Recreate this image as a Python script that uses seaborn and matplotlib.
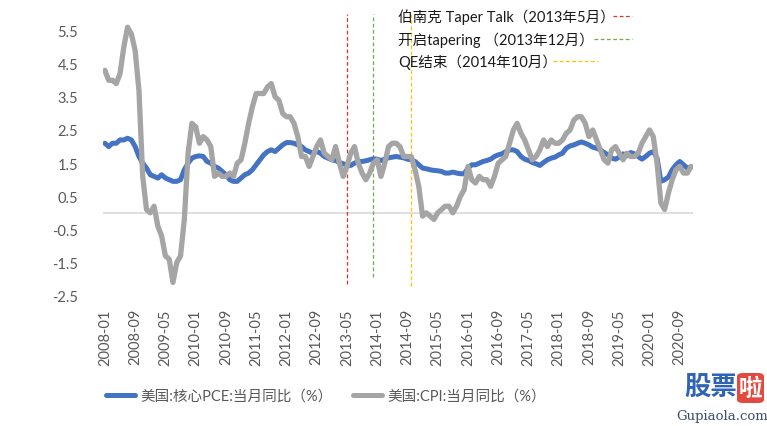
import numpy as np
import pandas as pd
import matplotlib
matplotlib.use("Agg")
import matplotlib.pyplot as plt
from matplotlib.lines import Line2D
from matplotlib.patches import FancyBboxPatch
import seaborn as sns

# ---------------- data ----------------
months = pd.date_range("2008-01-01", "2020-12-01", freq="MS").strftime("%Y-%m").tolist()

core_pce = [
    2.1, 2.0, 2.1, 2.1, 2.2, 2.2, 2.25, 2.2, 2.0, 1.7, 1.5, 1.35,      # 2008
    1.15, 1.1, 1.05, 1.15, 1.05, 1.0, 0.95, 0.95, 1.0, 1.3, 1.5, 1.65,  # 2009
    1.7, 1.72, 1.7, 1.55, 1.5, 1.4, 1.35, 1.25, 1.15, 1.0, 0.95, 0.95,  # 2010
    1.05, 1.15, 1.2, 1.3, 1.45, 1.6, 1.75, 1.85, 1.9, 1.85, 1.95, 2.05, # 2011
    2.12, 2.12, 2.1, 2.05, 2.0, 1.9, 1.85, 1.8, 1.85, 1.8, 1.7, 1.65,   # 2012
    1.6, 1.58, 1.52, 1.48, 1.45, 1.43, 1.5, 1.55, 1.55, 1.57, 1.6, 1.63,# 2013
    1.62, 1.58, 1.62, 1.66, 1.68, 1.7, 1.68, 1.66, 1.62, 1.6, 1.55, 1.45,# 2014
    1.35, 1.33, 1.3, 1.28, 1.27, 1.25, 1.2, 1.2, 1.23, 1.2, 1.18, 1.18, # 2015
    1.35, 1.45, 1.45, 1.5, 1.55, 1.58, 1.62, 1.7, 1.75, 1.78, 1.85, 1.9,# 2016
    1.9, 1.85, 1.7, 1.62, 1.58, 1.52, 1.48, 1.43, 1.52, 1.6, 1.65, 1.68,# 2017
    1.75, 1.8, 1.95, 2.02, 2.05, 2.1, 2.14, 2.1, 2.05, 1.98, 1.95, 1.9, # 2018
    1.82, 1.75, 1.65, 1.62, 1.68, 1.78, 1.72, 1.82, 1.78, 1.7, 1.62, 1.7,# 2019
    1.8, 1.85, 1.65, 0.95, 1.0, 1.08, 1.3, 1.45, 1.55, 1.45, 1.35, 1.38,# 2020
]

cpi = [
    4.3, 4.0, 4.0, 3.9, 4.2, 5.0, 5.6, 5.4, 4.9, 3.7, 1.1, 0.1,         # 2008
    0.0, 0.2, -0.4, -0.7, -1.3, -1.4, -2.1, -1.5, -1.3, -0.2, 1.8, 2.7, # 2009
    2.6, 2.1, 2.3, 2.2, 2.0, 1.1, 1.2, 1.1, 1.1, 1.2, 1.1, 1.5,         # 2010
    1.6, 2.1, 2.7, 3.2, 3.6, 3.6, 3.6, 3.8, 3.9, 3.5, 3.4, 3.0,         # 2011
    2.9, 2.9, 2.7, 2.3, 1.7, 1.7, 1.4, 1.7, 2.0, 2.2, 1.8, 1.7,         # 2012
    1.6, 2.0, 1.5, 1.1, 1.4, 1.8, 2.0, 1.5, 1.2, 1.0, 1.2, 1.5,         # 2013
    1.6, 1.1, 1.5, 2.0, 2.1, 2.1, 2.0, 1.7, 1.7, 1.7, 1.3, 0.8,         # 2014
    -0.1, 0.0, -0.1, -0.2, 0.0, 0.1, 0.2, 0.2, 0.0, 0.2, 0.5, 0.7,      # 2015
    1.4, 1.0, 0.9, 1.1, 1.0, 1.0, 0.8, 1.1, 1.5, 1.6, 1.7, 2.1,         # 2016
    2.5, 2.7, 2.4, 2.2, 1.9, 1.6, 1.7, 1.9, 2.2, 2.0, 2.2, 2.1,         # 2017
    2.1, 2.2, 2.4, 2.5, 2.8, 2.9, 2.9, 2.7, 2.3, 2.5, 2.2, 1.9,         # 2018
    1.6, 1.5, 1.9, 2.0, 1.8, 1.6, 1.8, 1.7, 1.7, 1.8, 2.1, 2.3,         # 2019
    2.5, 2.3, 1.5, 0.3, 0.1, 0.6, 1.0, 1.3, 1.4, 1.2, 1.2, 1.4,         # 2020
]

series_names = ["美国:核心PCE:当月同比（%）", "美国:CPI:当月同比（%）"]
y_ticks = [-2.5, -1.5, -0.5, 0.5, 1.5, 2.5, 3.5, 4.5, 5.5]

events = ["2013-05", "2013-12", "2014-10"]
event_labels = ["伯南克 Taper Talk（2013年5月）", "开启tapering （2013年12月）", "QE结束（2014年10月）"]

# ---------------- figure ----------------
sns.set_style("white")
plt.rcParams["font.family"] = ["Lato", "Noto Sans CJK SC", "DejaVu Sans"]

W, H = 767, 427
fig = plt.figure(figsize=(W / 100, H / 100), dpi=100)
ax = fig.add_axes([103 / W, 1 - 296.7 / H, (693 - 103) / W, (296.7 - 15) / H])

idx = np.arange(len(months))
df = pd.DataFrame({"i": idx, "pce": core_pce, "cpi": cpi})

ax.axhline(0, color="#d9d9d9", lw=1.2, zorder=1)

sns.lineplot(data=df, x="i", y="pce", ax=ax, color="#4472c4", lw=3.6,
             label=series_names[0], zorder=3, legend=False)
sns.lineplot(data=df, x="i", y="cpi", ax=ax, color="#a5a5a5", lw=3.8,
             label=series_names[1], zorder=4, legend=False)
for l in ax.lines:
    l.set_solid_capstyle("round")
    l.set_solid_joinstyle("round")

ax.set_xlim(-0.5, len(months) - 0.5)
ax.set_ylim(-2.5, 6.0)
ax.set_yticks(y_ticks)
ax.set_yticklabels([f"{v:.1f}" for v in y_ticks])
tick_pos = idx[::8]
ax.set_xticks(tick_pos)
ax.set_xticklabels([months[i] for i in tick_pos], rotation=90)
ax.tick_params(axis="both", length=0, labelsize=10.5, colors="#595959")
ax.tick_params(axis="y", pad=18)
ax.tick_params(axis="x", pad=9)
ax.set_xlabel("")
ax.set_ylabel("")
for s in ax.spines.values():
    s.set_visible(False)

# event vertical lines
ev_colors = ["#e0302c", "#70ad47", "#ffc000"]
ev_bottom = [-2.15, -1.94, -2.2]
for e, c, b in zip(events, ev_colors, ev_bottom):
    xi = months.index(e)
    ax.vlines(xi, b, 6.0, colors=c, linestyles=(0, (3, 2)), lw=0.9, zorder=2)

# annotation texts with trailing dashed leaders
text_y = [17, 40, 62]
leader = [(613, 632), (594, 632), (553, 598)]
for t, yy, c, (x0, x1) in zip(event_labels, text_y, ev_colors, leader):
    fig.text(398 / W, 1 - yy / H, t, fontsize=10.5, color="#1a1a1a",
             va="center", ha="left", zorder=5)
    fig.add_artist(Line2D([x0 / W, x1 / W], [1 - yy / H, 1 - yy / H],
                          color=c, lw=0.9, ls=(0, (3, 2)),
                          transform=fig.transFigure))

# legend
handles = [Line2D([], [], color="#4472c4", lw=3.6),
           Line2D([], [], color="#a5a5a5", lw=3.6)]
fig.legend(handles, series_names, loc="center left",
           bbox_to_anchor=(106 / W, 1 - 397 / H), ncol=2, frameon=False,
           fontsize=10.5, handlelength=2.0, handletextpad=0.35,
           columnspacing=1.4, borderpad=0, borderaxespad=0,
           labelcolor="#595959")

# watermark
fig.text(684 / W, 1 - 388 / H, "股票", fontsize=19, fontweight="bold",
         color="#2f63b5", va="center", ha="left",
         family=["Noto Sans CJK SC"])
box = FancyBboxPatch((737 / W, 1 - 404 / H), 27 / W, 30 / H,
                     boxstyle="round,pad=0.0,rounding_size=0.008",
                     transform=fig.transFigure, facecolor="#e2493f",
                     edgecolor="none")
fig.add_artist(box)
fig.text(750.5 / W, 1 - 389 / H, "啦", fontsize=17, fontweight="bold",
         color="white", va="center", ha="center",
         family=["Noto Sans CJK SC"])
fig.text(722 / W, 1 - 417 / H, "Gupiaola.com", fontsize=9.5,
         color="#3a4f6e", va="center", ha="center", family=["DejaVu Serif"])

fig.savefig("out.png", dpi=100)
